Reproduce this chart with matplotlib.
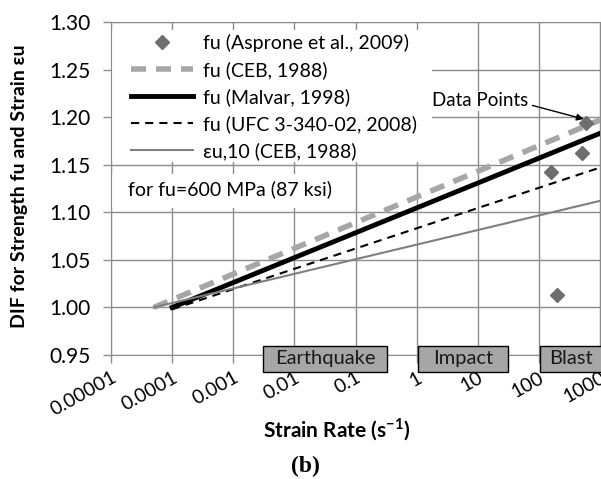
import matplotlib
matplotlib.use("Agg")
import matplotlib.pyplot as plt
from matplotlib.patches import Rectangle
import matplotlib.transforms as mtransforms

plt.rcParams['font.family'] = ['Lato', 'DejaVu Sans']
plt.rcParams['mathtext.fontset'] = 'custom'
plt.rcParams['mathtext.rm'] = 'Lato'
plt.rcParams['mathtext.bf'] = 'Lato:bold'

# ---- data ----
asprone_x = [600, 500, 160, 200]
asprone_y = [1.194, 1.162, 1.142, 1.013]

ceb_x = [5e-5, 1000]
ceb_y = [1.00, 1.197]

malvar_x = [1e-4, 1000]
malvar_y = [1.00, 1.183]

ufc_x = [1e-4, 1000]
ufc_y = [0.998, 1.147]

eps_x = [5e-5, 1000]
eps_y = [1.00, 1.112]

categories = ["Earthquake", "Impact", "Blast"]
cat_lo = [10**-2.51, 10**0.02, 10**2.02]
cat_hi = [10**-0.48, 10**1.5, 10**3.03]

xticks = [1e-5, 1e-4, 1e-3, 1e-2, 1e-1, 1, 10, 100, 1000]
xticklabels = ["0.00001", "0.0001", "0.001", "0.01", "0.1", "1", "10", "100", "1000"]
yticks = [0.95, 1.00, 1.05, 1.10, 1.15, 1.20, 1.25, 1.30]

grid_c = "#8c8c8c"

fig = plt.figure(figsize=(6.01, 4.79), dpi=100)
ax = fig.add_axes([111/601, 1-355/479, 489/601, 333/479])
ax.set_xscale('log')
ax.set_xlim(1e-5, 1000)
ax.set_ylim(0.95, 1.30)
ax.set_axisbelow(True)
ax.grid(True, which='major', color=grid_c, lw=1)
ax.minorticks_off()
for s in ax.spines.values():
    s.set_color(grid_c)
ax.set_xticks(xticks)
ax.set_xticklabels(xticklabels, rotation=29, ha='right', rotation_mode='anchor', fontsize=14)
offset = mtransforms.ScaledTranslation(6/100, -6/100, fig.dpi_scale_trans)
for lab in ax.get_xticklabels():
    lab.set_transform(lab.get_transform() + offset)
ax.set_yticks(yticks)
ax.set_yticklabels([f"{v:.2f}" for v in yticks], fontsize=15)
ax.tick_params(axis='both', color=grid_c, length=6, width=1)
ax.tick_params(axis='x', pad=4)
ax.tick_params(axis='y', pad=9)

# white backgrounds hiding gridlines behind legend / note
ax.add_patch(Rectangle((0, 0.580), 0.656, 0.396, transform=ax.transAxes,
                       facecolor='white', edgecolor='none', zorder=1))
ax.add_patch(Rectangle((0, 0.441), 0.479, 0.103, transform=ax.transAxes,
                       facecolor='white', edgecolor='none', zorder=1))

ax.plot(asprone_x, asprone_y, linestyle='none', marker='D', markersize=7,
        color='#6e6e6e', label='fu (Asprone et al., 2009)', zorder=4)
l1, = ax.plot(ceb_x, ceb_y, color='#a6a6a6', lw=4, label='fu (CEB, 1988)', zorder=3)
l1.set_dashes((2.7, 1.8))
ax.plot(malvar_x, malvar_y, color='black', lw=3.5, label='fu (Malvar, 1998)', zorder=3)
l3, = ax.plot(ufc_x, ufc_y, color='black', lw=1.5, label='fu (UFC 3-340-02, 2008)', zorder=3)
l3.set_dashes((3.9, 2.9))
ax.plot(eps_x, eps_y, color='#7f7f7f', lw=1.5, label='εu,10 (CEB, 1988)', zorder=3)

leg = ax.legend(loc='upper left', bbox_to_anchor=(0.04, 0.964), frameon=False,
                fontsize=14, handlelength=3.2, handletextpad=0.55,
                labelspacing=0.47, borderpad=0, borderaxespad=0)
leg.set_zorder(5)

ax.text(0.035, 0.4985, "for fu=600 MPa (87 ksi)", transform=ax.transAxes,
        fontsize=14, va='center', ha='left', zorder=5)

ax.annotate("Data Points", xy=(540, 1.198), xytext=(11, 1.217),
            fontsize=13.5, ha='center', va='center', zorder=6,
            bbox=dict(facecolor='white', edgecolor='none', pad=1),
            arrowprops=dict(arrowstyle='-|>', color='black', lw=1,
                            shrinkA=2, shrinkB=0, mutation_scale=10,
                            relpos=(1.0, 0.3)))

# category boxes
trans = mtransforms.blended_transform_factory(ax.transData, ax.transAxes)
for name, lo, hi in zip(categories, cat_lo, cat_hi):
    ax.add_patch(Rectangle((lo, -0.051), hi - lo, 0.078, transform=trans,
                           facecolor='#a6a6a6', edgecolor='black', lw=1,
                           clip_on=False, zorder=6))
    xc = (lo * hi) ** 0.5
    ax.text(xc, -0.012, name, transform=trans, ha='center', va='center',
            fontsize=14.5, color='#1a1a1a', zorder=7, clip_on=False)

fig.text(337/601, 1-430/479, "Strain Rate (s$^{\\mathbf{-1}}$)", ha='center', va='center',
         fontsize=15, fontweight='bold')
fig.text(20/601, 1-186/479, "DIF for Strength fu and Strain εu", ha='center', va='center',
         rotation=90, fontsize=14, fontweight='bold')
fig.text(305/601, 1-466/479, "(b)", ha='center', va='center',
         fontsize=17, fontweight='bold', family='Liberation Serif')

fig.savefig("out.png", dpi=100)
